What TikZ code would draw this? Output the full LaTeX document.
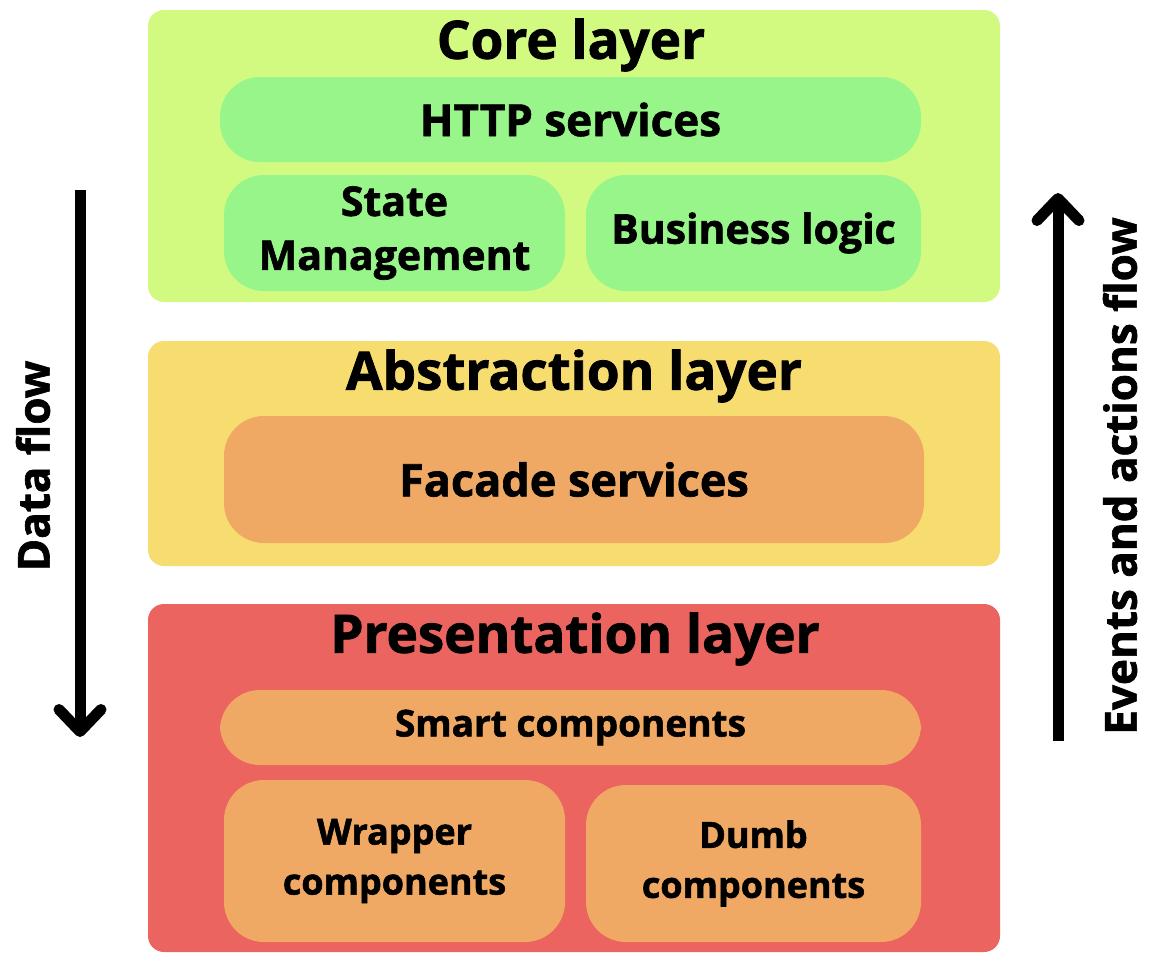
\documentclass[tikz,border=0pt]{standalone}
\usepackage{fontspec}
\setmainfont{Open Sans}[BoldFeatures={FakeBold=1.5}]
\usetikzlibrary{arrows.meta, positioning}
\definecolor{core_bg}{RGB}{210, 250, 128}
\definecolor{core_box}{RGB}{152, 245, 138}
\definecolor{abs_bg}{RGB}{247, 220, 111}
\definecolor{pres_bg}{RGB}{235, 100, 95}
\definecolor{comp_box}{RGB}{240, 169, 100}

\begin{document}
\begin{tikzpicture}[
        x=1pt, y=-1pt,
        layer/.style={rectangle, rounded corners=16pt, inner sep=0pt,
                      minimum width=852pt},
        part/.style={rectangle, rounded corners=40pt, inner sep=0pt,
                     align=center, font=\fontsize{41}{54}\selectfont\bfseries},
        ttl/.style={font=\fontsize{53}{60}\selectfont\bfseries, inner sep=0pt},
        flowtxt/.style={font=\fontsize{44}{48}\selectfont\bfseries, rotate=90, inner sep=0pt},
        flow/.style={line width=11pt, black,
                     -{Straight Barb[length=22pt, width=42pt, line cap=round, line join=round]}},
      ]
        \useasboundingbox (0,0) rectangle (1152,969);

        % layers
        \node[layer, fill=core_bg, minimum height=292pt] (core) at (574,156) {};
        \node[layer, fill=abs_bg,  minimum height=225pt] (abs)  at (574,453.5) {};
        \node[layer, fill=pres_bg, minimum height=348pt] (pres) at (574,778) {};

        \node[ttl] (coreT) at (571,45)  {Core layer};
        \node[ttl] (absT)  at (574,376) {Abstraction layer};
        \node[ttl] (presT) at (575,639) {Presentation layer};

        % core layer
        \node[part, fill=core_box, minimum width=701pt, minimum height=85pt,
              font=\fontsize{44}{54}\selectfont\bfseries] (http) at (570.5,119.5) {HTTP services};
        \node[part, fill=core_box, minimum width=341pt, minimum height=116pt] (state) at (394.5,233) {State\\Management};
        \node[part, fill=core_box, minimum width=335pt, minimum height=116pt] (biz) at (753.5,233) {Business logic};

        % abstraction layer
        \node[part, fill=comp_box, minimum width=700pt, minimum height=127pt,
              font=\fontsize{45}{54}\selectfont\bfseries] (facade) at (574,479.5) {Facade services};

        % presentation layer
        \node[part, fill=comp_box, minimum width=701pt, minimum height=75pt,
              font=\fontsize{37}{40}\selectfont\bfseries] (smart) at (570.5,727.5) {Smart components};
        \node[part, fill=comp_box, minimum width=341pt, minimum height=162pt,
              font=\fontsize{36}{50}\selectfont\bfseries] (wrap) at (394.5,861) {Wrapper\\components};
        \node[part, fill=comp_box, minimum width=335pt, minimum height=157pt,
              font=\fontsize{36}{50}\selectfont\bfseries] (dumb) at (753.5,863.5) {Dumb\\components};

        % flows
        \coordinate (dataTop) at (80,190);
        \coordinate (dataBot) at (80,737);
        \coordinate (evtBot)  at (1058,741);
        \coordinate (evtTop)  at (1058,193);
        \draw[flow] (dataTop) -- (dataBot);
        \draw[flow] (evtBot) -- (evtTop);

        \node[flowtxt] (dataL) at (33,466) {Data flow};
        \node[flowtxt] (evtL)  at (1120,476) {Events and actions flow};
      \end{tikzpicture}
\end{document}
